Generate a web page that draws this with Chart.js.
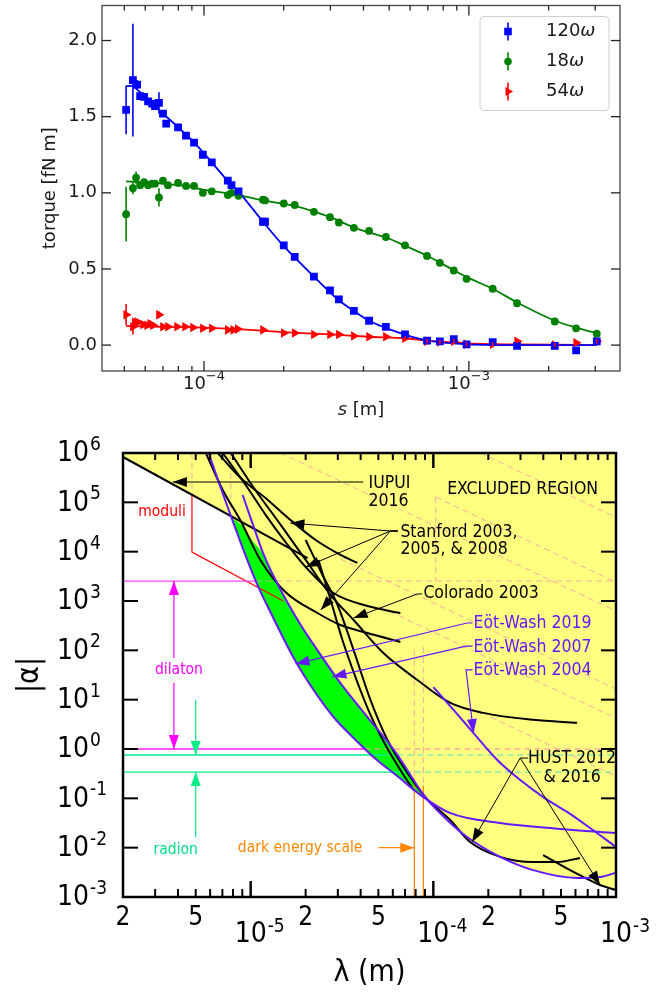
<!DOCTYPE html>
<html>
<head>
<meta charset="utf-8">
<script src="https://cdn.jsdelivr.net/npm/chart.js@4.4.0/dist/chart.umd.min.js"></script>
<style>
  body { margin: 0; background: #fff; width: 668px; height: 994px; overflow: hidden; }
  #torque { position: absolute; left: 0; top: 0; }
  #alpha { position: absolute; left: 0; top: 420px; }
</style>
</head>
<body>
<canvas id="torque" width="668" height="420"></canvas>
<canvas id="alpha" width="668" height="574"></canvas>
<script>
// ---------- top panel: torque vs separation ----------
var sep120 = [5.08e-5, 5.39e-5, 5.59e-5, 5.74e-5, 5.94e-5, 6.15e-5, 6.37e-5, 6.53e-5, 6.76e-5, 7.0e-5, 7.2e-5, 7.98e-5, 8.55e-5, 9.17e-5, 9.9e-5, 1.07e-4, 1.23e-4, 1.27e-4, 1.35e-4, 1.67e-4, 1.70e-4, 2.0e-4, 2.2e-4, 2.6e-4, 2.99e-4, 3.23e-4, 3.68e-4, 4.2e-4, 4.86e-4, 5.74e-4, 6.95e-4, 7.77e-4, 8.77e-4, 9.8e-4, 1.23e-3, 1.52e-3, 2.11e-3, 2.54e-3, 3.04e-3];
var torque120 = [1.545, 1.74, 1.71, 1.635, 1.63, 1.60, 1.585, 1.57, 1.59, 1.52, 1.455, 1.43, 1.375, 1.33, 1.25, 1.20, 1.08, 1.05, 1.01, 0.81, 0.81, 0.655, 0.58, 0.45, 0.36, 0.30, 0.225, 0.16, 0.12, 0.07, 0.03, 0.025, 0.04, 0.005, 0.02, -0.005, -0.005, -0.035, 0.025];
var err120 = [0.16, 0.37, 0.03, 0.02, 0.02, 0.02, 0.02, 0.02, 0.07, 0.02, 0.02, 0.015, 0.015, 0.015, 0.015, 0.015, 0.015, 0.015, 0.015, 0.015, 0.015, 0.015, 0.015, 0.015, 0.015, 0.015, 0.015, 0.015, 0.015, 0.015, 0.015, 0.015, 0.015, 0.015, 0.015, 0.015, 0.015, 0.015, 0.015];

var sep18 = [5.08e-5, 5.39e-5, 5.54e-5, 5.74e-5, 5.94e-5, 6.15e-5, 6.37e-5, 6.53e-5, 6.76e-5, 7.0e-5, 7.31e-5, 7.98e-5, 8.55e-5, 9.17e-5, 9.9e-5, 1.07e-4, 1.23e-4, 1.27e-4, 1.35e-4, 1.67e-4, 1.70e-4, 2.0e-4, 2.2e-4, 2.6e-4, 2.99e-4, 3.23e-4, 3.68e-4, 4.2e-4, 4.86e-4, 5.74e-4, 6.95e-4, 7.77e-4, 8.77e-4, 9.8e-4, 1.23e-3, 1.52e-3, 2.11e-3, 2.54e-3, 3.04e-3];
var torque18 = [0.86, 1.03, 1.10, 1.05, 1.07, 1.05, 1.06, 1.06, 0.97, 1.08, 1.05, 1.065, 1.045, 1.045, 1.0, 1.01, 0.985, 1.0, 0.98, 0.955, 0.95, 0.93, 0.92, 0.875, 0.84, 0.805, 0.77, 0.75, 0.71, 0.655, 0.585, 0.54, 0.49, 0.435, 0.37, 0.275, 0.155, 0.11, 0.075];
var err18 = [0.18, 0.04, 0.04, 0.02, 0.02, 0.02, 0.02, 0.02, 0.06, 0.02, 0.015, 0.015, 0.015, 0.015, 0.015, 0.015, 0.015, 0.015, 0.015, 0.015, 0.015, 0.015, 0.015, 0.015, 0.015, 0.015, 0.015, 0.015, 0.015, 0.015, 0.015, 0.015, 0.015, 0.015, 0.015, 0.015, 0.015, 0.015, 0.015];

var sep54 = [5.08e-5, 5.39e-5, 5.49e-5, 5.64e-5, 5.89e-5, 6.1e-5, 6.26e-5, 6.42e-5, 6.76e-5, 7.0e-5, 7.31e-5, 7.91e-5, 8.48e-5, 9.09e-5, 9.9e-5, 1.07e-4, 1.23e-4, 1.29e-4, 1.34e-4, 1.67e-4, 2.0e-4, 2.2e-4, 2.6e-4, 2.99e-4, 3.23e-4, 3.68e-4, 4.2e-4, 4.86e-4, 5.74e-4, 6.95e-4, 7.77e-4, 8.77e-4, 9.8e-4, 1.23e-3, 1.52e-3, 2.11e-3, 2.54e-3, 3.04e-3];
var torque54 = [0.20, 0.12, 0.15, 0.15, 0.135, 0.13, 0.14, 0.13, 0.20, 0.12, 0.12, 0.12, 0.12, 0.115, 0.11, 0.11, 0.10, 0.10, 0.105, 0.10, 0.08, 0.08, 0.07, 0.07, 0.07, 0.06, 0.055, 0.055, 0.045, 0.025, 0.02, 0.025, 0.005, 0.005, 0.025, 0.0, 0.015, 0.025];
var err54 = [0.07, 0.05, 0.03, 0.02, 0.02, 0.02, 0.02, 0.02, 0.02, 0.015, 0.015, 0.015, 0.015, 0.015, 0.015, 0.015, 0.015, 0.015, 0.015, 0.015, 0.015, 0.015, 0.015, 0.015, 0.015, 0.015, 0.015, 0.015, 0.015, 0.015, 0.015, 0.015, 0.015, 0.015, 0.015, 0.015, 0.015, 0.015];

// fitted curves
var fitSep120 = [5.08e-5, 5.39e-5, 6.0e-5, 7.0e-5, 8.0e-5, 9.2e-5, 1.07e-4, 1.27e-4, 1.35e-4, 1.67e-4, 2.0e-4, 2.6e-4, 3.2e-4, 4.2e-4, 5.7e-4, 7.0e-4, 1.0e-3, 1.5e-3, 3.04e-3];
var fit120 = [1.70, 1.70, 1.63, 1.52, 1.43, 1.33, 1.20, 1.05, 1.01, 0.81, 0.65, 0.45, 0.30, 0.16, 0.07, 0.03, 0.005, 0.0, 0.0];
var fitSep18 = [5.08e-5, 6.0e-5, 7.0e-5, 8.5e-5, 1.0e-4, 1.35e-4, 1.67e-4, 2.2e-4, 3.0e-4, 3.7e-4, 4.9e-4, 5.7e-4, 7.0e-4, 8.8e-4, 1.0e-3, 1.23e-3, 1.52e-3, 2.11e-3, 2.54e-3, 3.04e-3];
var fit18 = [1.075, 1.07, 1.06, 1.045, 1.02, 0.985, 0.95, 0.915, 0.84, 0.77, 0.705, 0.655, 0.585, 0.49, 0.44, 0.37, 0.28, 0.16, 0.115, 0.078];
var fitSep54 = [5.08e-5, 7e-5, 1e-4, 1.35e-4, 2e-4, 3e-4, 4.2e-4, 5.7e-4, 7e-4, 1e-3, 1.5e-3, 3.04e-3];
var fit54 = [0.125, 0.12, 0.115, 0.105, 0.085, 0.07, 0.055, 0.045, 0.03, 0.012, 0.005, 0.0];

var torqueTicks = [0, 0.5, 1.0, 1.5, 2.0];
var sepDecades = [1e-4, 1e-3];
var sepExps = ['\u22124', '\u22123'];
var seriesNames = ['120', '18', '54'];
var seriesColors = ['#0000ff', '#008000', '#ff0000'];

// ---------- bottom panel: |alpha| vs lambda ----------
var iupui = [[2.0e-6, 8.3e5], [2.05e-5, 7.4e3]];
var ew2019 = [[5.89e-6, 1e6], [6.86e-6, 1.95e5], [7.97e-6, 4.2e4], [9.39e-6, 8.2e3], [1.09e-5, 2.1e3], [1.29e-5, 571], [1.72e-5, 70], [2.21e-5, 15.7], [2.84e-5, 4.45], [3.66e-5, 1.67], [4.7e-5, 0.69], [6.44e-5, 0.27], [8.82e-5, 0.106], [1.24e-4, 0.050], [2.32e-4, 0.0316], [4.94e-4, 0.024], [1.0e-3, 0.0198]];
var ew2007 = [[9.04e-6, 1.41e5], [1.03e-5, 3.5e4], [1.18e-5, 8.6e3], [1.46e-5, 1.67e3], [1.88e-5, 326], [2.42e-5, 80], [3.1e-5, 21.7], [4.36e-5, 4.45], [6.2e-5, 0.87], [9.04e-5, 0.106], [1.16e-4, 0.040], [1.53e-4, 0.0164], [2.32e-4, 0.0065], [3.52e-4, 0.0035], [6.12e-4, 0.00243], [8.18e-4, 0.00254], [1.0e-3, 0.0031]];
var ew2004 = [[1.0e-4, 18], [1.29e-4, 6.2], [1.66e-4, 2.1], [2.24e-4, 0.6], [2.99e-4, 0.235], [4.09e-4, 0.10], [5.4e-4, 0.053], [7.21e-4, 0.025], [1.0e-3, 0.0103]];
var stanfordA = [[6.6e-6, 1e6], [8.82e-6, 3.1e5], [1.24e-5, 1.12e5], [1.65e-5, 4.4e4], [2.27e-5, 1.72e4], [3.1e-5, 8.6e3], [3.84e-5, 5.9e3]];
var stanfordB = [[7.03e-6, 1e6], [9.39e-6, 2.25e5], [1.21e-5, 5.5e4], [1.55e-5, 1.57e4], [2.0e-5, 4.9e3], [2.84e-5, 1.45e3], [4.36e-5, 790], [6.6e-5, 571]];
var stanfordC = [[5.68e-6, 1e6], [7.03e-6, 1.78e5], [8.82e-6, 4.2e4], [1.13e-5, 6.8e3], [1.55e-5, 1.52e3], [2.32e-5, 571], [3.1e-5, 326], [4.36e-5, 224], [6.6e-5, 148]];
var colorado = [[7.78e-6, 1e6], [1.06e-5, 1.78e5], [1.46e-5, 3.5e4], [2.0e-5, 6.8e3], [2.74e-5, 1.32e3], [3.66e-5, 412], [5.33e-5, 88], [8.18e-5, 25], [1.24e-4, 8.6], [1.88e-4, 5.4], [3.52e-4, 3.9], [6.12e-4, 3.4]];
var hust2012 = [[2.0e-5, 1.72e4], [2.47e-5, 3.4e3], [2.99e-5, 830], [3.66e-5, 101], [4.53e-5, 9.8], [5.61e-5, 1.52], [7.03e-5, 0.375], [9.04e-5, 0.106], [1.24e-4, 0.036], [1.59e-4, 0.013], [2.32e-4, 0.0065], [3.52e-4, 0.0051], [4.76e-4, 0.0051], [6.35e-4, 0.0062]];
var steepB = [[2.35e-5, 6.8e3], [2.74e-5, 1.05e3], [3.18e-5, 162], [3.8e-5, 25], [4.53e-5, 4.9], [5.47e-5, 1.2], [6.6e-5, 0.375], [7.8e-5, 0.146]];
var hust2016 = [[3.99e-4, 0.0071], [5.61e-4, 0.0035], [8.18e-4, 0.00175], [1.0e-3, 0.00138]];
// lower envelope of all limits: IUPUI line, then Eot-Wash, then HUST
var excludedEdge = [[2.0e-6, 8.3e5], [3.0e-6, 3.65e5], [4.0e-6, 2.04e5], [5.0e-6, 1.29e5], [6.0e-6, 8.95e4], [7.0e-6, 6.5e4], [7.8e-6, 5.25e4], [7.97e-6, 4.2e4], [9.39e-6, 8.2e3], [1.09e-5, 2.1e3], [1.29e-5, 571], [1.72e-5, 70], [2.21e-5, 15.7], [2.84e-5, 4.45], [3.66e-5, 1.67], [4.7e-5, 0.69], [6.44e-5, 0.27], [8.82e-5, 0.106], [1.24e-4, 0.036], [1.59e-4, 0.013], [2.32e-4, 0.0065], [3.52e-4, 0.0035], [6.12e-4, 0.00243], [7.21e-4, 0.0022], [8.18e-4, 0.00175], [1.0e-3, 0.00138]];
var greenEdge = [[7.9e-6, 4.8e4], [9.0e-6, 3.3e4], [1.03e-5, 1.6e4], [1.18e-5, 8.6e3], [1.46e-5, 1.67e3], [1.88e-5, 326], [2.42e-5, 80], [3.1e-5, 21.7], [4.36e-5, 4.45], [6.2e-5, 0.87], [8.82e-5, 0.106]];

// theory bands
var dilatonBounds = [2540, 1.0];
var dilatonCross = [1.07e-5, 4.2e-5];
var radionBounds = [0.755, 0.34];
var radionCross = [5.6e-5, 7.0e-5];
var darkEnergyLambda = [7.87e-5, 8.82e-5];
var darkEnergyTop = [0.25, 0.18];
var moduliLine = [[4.77e-6, 1.41e5], [4.77e-6, 9.8e3], [1.51e-5, 1.0e3]];
var pinkVerticals = [[4.77e-6, 1e6, 1.41e5], [7.78e-6, 1e6, 5.3e4], [1.03e-4, 1.28e5, 2540], [7.87e-5, 101, 0.25], [8.82e-5, 117, 0.18]];
var pinkDiagonals = [[[1.46e-5, 1e6], [1e-3, 627]], [[1.03e-4, 1.28e5], [1e-3, 2.4e3]], [[1.81e-4, 1e6], [1e-3, 5e4]], [[3.1e-5, 7.1e3], [1e-3, 16.4]], [[5.13e-5, 755], [1e-3, 4.2]], [[2.05e-4, 4.45], [1e-3, 0.28]]];

var lambdaMinor = [2e-6, 5e-6, 2e-5, 5e-5, 2e-4, 5e-4];
var lambdaMinorLabels = ['2', '5', '2', '5', '2', '5'];
var lambdaDecades = [1e-5, 1e-4, 1e-3];
var lambdaExps = ['-5', '-4', '-3'];
var alphaExps = [-3, -2, -1, 0, 1, 2, 3, 4, 5, 6];

var NARROW = "'Liberation Sans Narrow','DejaVu Sans Condensed','DejaVu Sans',sans-serif";
var PURPLE = '#6618ff';
var PINK = 'rgba(245,150,170,0.8)';

function xy(xs, ys) { return xs.map(function (x, i) { return { x: x, y: ys[i] }; }); }
function pairs(list) { return list.map(function (p) { return { x: p[0], y: p[1] }; }); }

function seg(ctx, x0, y0, x1, y1) { ctx.beginPath(); ctx.moveTo(x0, y0); ctx.lineTo(x1, y1); ctx.stroke(); }

function arrowPath(ctx, pts, color, lw, hl, hw) {
  ctx.strokeStyle = color; ctx.fillStyle = color; ctx.lineWidth = lw;
  ctx.beginPath(); ctx.moveTo(pts[0][0], pts[0][1]);
  for (var i = 1; i < pts.length; i++) ctx.lineTo(pts[i][0], pts[i][1]);
  ctx.stroke();
  var p1 = pts[pts.length - 2], p2 = pts[pts.length - 1];
  var a = Math.atan2(p2[1] - p1[1], p2[0] - p1[0]);
  var bx = p2[0] - hl * Math.cos(a), by = p2[1] - hl * Math.sin(a);
  ctx.beginPath(); ctx.moveTo(p2[0], p2[1]);
  ctx.lineTo(bx + hw * Math.sin(a), by - hw * Math.cos(a));
  ctx.lineTo(bx - hw * Math.sin(a), by + hw * Math.cos(a));
  ctx.closePath(); ctx.fill();
}

// ---------------- top chart ----------------
var errorBars = {
  id: 'errorBars',
  afterDatasetsDraw: function (chart) {
    var ctx = chart.ctx, xs = chart.scales.x, ys = chart.scales.y;
    ctx.save();
    chart.data.datasets.forEach(function (ds) {
      if (!ds.errs) return;
      ctx.strokeStyle = ds.borderColor; ctx.lineWidth = 1.6;
      ds.data.forEach(function (p, j) {
        var px = xs.getPixelForValue(p.x);
        seg(ctx, px, ys.getPixelForValue(p.y - ds.errs[j]), px, ys.getPixelForValue(p.y + ds.errs[j]));
      });
    });
    ctx.restore();
  }
};

function legendMarker(ctx, i, x, y) {
  ctx.fillStyle = seriesColors[i]; ctx.strokeStyle = seriesColors[i]; ctx.lineWidth = 1.6;
  seg(ctx, x, y - 9, x, y + 9);
  ctx.beginPath();
  if (i === 0) ctx.rect(x - 3.8, y - 3.8, 7.6, 7.6);
  else if (i === 1) ctx.arc(x, y, 3.8, 0, Math.PI * 2);
  else { ctx.moveTo(x + 5, y); ctx.lineTo(x - 2.5, y - 4.4); ctx.lineTo(x - 2.5, y + 4.4); ctx.closePath(); }
  ctx.fill();
}

var torqueAxes = {
  id: 'torqueAxes',
  afterDraw: function (chart) {
    var ctx = chart.ctx, a = chart.chartArea, xs = chart.scales.x, ys = chart.scales.y;
    ctx.save();
    ctx.strokeStyle = '#444'; ctx.lineWidth = 1.3;
    ctx.strokeRect(a.left, a.top, a.right - a.left, a.bottom - a.top);
    ctx.strokeStyle = '#222'; ctx.fillStyle = '#1a1a1a'; ctx.lineWidth = 1.3;
    ctx.font = "18px 'DejaVu Sans'"; ctx.textAlign = 'right'; ctx.textBaseline = 'middle';
    torqueTicks.forEach(function (v) {
      var py = ys.getPixelForValue(v);
      seg(ctx, a.left, py, a.left + 9, py);
      seg(ctx, a.right - 9, py, a.right, py);
      ctx.fillText(v.toFixed(1), a.left - 5, py);
    });
    [1e-5, 1e-4, 1e-3].forEach(function (dec) {
      for (var k = 1; k <= 9; k++) {
        var v = k * dec;
        if (v < xs.min || v > xs.max) continue;
        var px = xs.getPixelForValue(v), len = k === 1 ? 10 : 5;
        seg(ctx, px, a.bottom, px, a.bottom - len);
        seg(ctx, px, a.top, px, a.top + len);
      }
    });
    sepDecades.forEach(function (v, i) {
      var px = xs.getPixelForValue(v);
      ctx.font = "18px 'DejaVu Sans'";
      var w1 = ctx.measureText('10').width;
      ctx.font = "13px 'DejaVu Sans'";
      var w2 = ctx.measureText(sepExps[i]).width;
      var x0 = px - (w1 + w2) / 2;
      ctx.textAlign = 'left';
      ctx.font = "18px 'DejaVu Sans'"; ctx.fillText('10', x0, a.bottom + 13);
      ctx.font = "13px 'DejaVu Sans'"; ctx.fillText(sepExps[i], x0 + w1, a.bottom + 6);
    });
    // axis titles
    ctx.font = "italic 18px 'DejaVu Sans'";
    var ws = ctx.measureText('s').width;
    ctx.font = "18px 'DejaVu Sans'";
    var wr = ctx.measureText(' [m]').width;
    var cx = (a.left + a.right) / 2 - (ws + wr) / 2;
    ctx.textAlign = 'left';
    ctx.font = "italic 18px 'DejaVu Sans'"; ctx.fillText('s', cx, a.bottom + 39);
    ctx.font = "18px 'DejaVu Sans'"; ctx.fillText(' [m]', cx + ws, a.bottom + 39);
    ctx.save();
    ctx.translate(50, (a.top + a.bottom) / 2); ctx.rotate(-Math.PI / 2);
    ctx.textAlign = 'center'; ctx.fillText('torque [fN m]', 0, 0);
    ctx.restore();
    // legend
    var bx = a.right - 140, by = a.top + 11, bw = 129, bh = 94;
    ctx.fillStyle = 'rgba(255,255,255,0.85)'; ctx.strokeStyle = '#d0d0d0'; ctx.lineWidth = 1;
    ctx.beginPath(); ctx.roundRect(bx, by, bw, bh, 4); ctx.fill(); ctx.stroke();
    seriesNames.forEach(function (n, i) {
      var yy = by + 15 + i * 30;
      legendMarker(ctx, i, bx + 28, yy);
      ctx.fillStyle = '#1a1a1a'; ctx.textAlign = 'left';
      ctx.font = "18px 'DejaVu Sans'"; ctx.fillText(n, bx + 66, yy);
      var w = ctx.measureText(n).width;
      ctx.font = "italic 18px 'DejaVu Sans'"; ctx.fillText('\u03c9', bx + 66 + w, yy);
    });
    ctx.restore();
  }
};

new Chart(document.getElementById('torque'), {
  type: 'line',
  data: {
    datasets: [
      { data: xy(sep120, torque120), errs: err120, showLine: false, borderColor: seriesColors[0], backgroundColor: seriesColors[0], pointStyle: 'rect', pointRadius: 5.5, pointBorderWidth: 0 },
      { data: xy(sep18, torque18), errs: err18, showLine: false, borderColor: seriesColors[1], backgroundColor: seriesColors[1], pointStyle: 'circle', pointRadius: 3.9, pointBorderWidth: 0 },
      { data: xy(sep54, torque54), errs: err54, showLine: false, borderColor: seriesColors[2], backgroundColor: seriesColors[2], pointStyle: 'triangle', pointRotation: 90, pointRadius: 5.5, pointBorderWidth: 0 },
      { data: xy(fitSep120, fit120), borderColor: seriesColors[0], borderWidth: 1.8, pointRadius: 0, tension: 0.2 },
      { data: xy(fitSep18, fit18), borderColor: seriesColors[1], borderWidth: 1.8, pointRadius: 0, tension: 0.2 },
      { data: xy(fitSep54, fit54), borderColor: seriesColors[2], borderWidth: 1.8, pointRadius: 0, tension: 0.2 }
    ]
  },
  options: {
    responsive: false, animation: false, events: [],
    layout: { padding: { left: 102, top: 2, right: 48, bottom: 49 } },
    plugins: { legend: { display: false }, tooltip: { enabled: false } },
    scales: {
      x: { type: 'logarithmic', min: 4.12e-5, max: 3.72e-3, display: false },
      y: { type: 'linear', min: -0.17, max: 2.23, display: false }
    }
  },
  plugins: [errorBars, torqueAxes]
});

// ---------------- bottom chart ----------------
function line(pts, color, width, order, dash) {
  return { data: pairs(pts), borderColor: color, borderWidth: width, pointRadius: 0, order: order, borderDash: dash || [], fill: false, tension: 0 };
}
function curve(pts, color, width, order) {
  var d = line(pts, color, width, order);
  d.cubicInterpolationMode = 'monotone';
  return d;
}

var alphaSets = [];
alphaSets.push(curve(ew2019, PURPLE, 2, 3));                 // index 0, green fill target
alphaSets.push(curve(ew2007, PURPLE, 2, 3));
alphaSets.push(curve(ew2004, PURPLE, 2, 3));
alphaSets.push(line(iupui, '#000', 2, 4));
[stanfordA, stanfordB, stanfordC, colorado, hust2012, steepB, hust2016].forEach(function (c) {
  alphaSets.push(curve(c, '#000', 2, 4));
});
alphaSets.push({ data: pairs(excludedEdge), borderWidth: 0, pointRadius: 0, fill: 'end', backgroundColor: '#ffff80', order: 30, cubicInterpolationMode: 'monotone' });
alphaSets.push({ data: pairs(greenEdge), borderWidth: 0, pointRadius: 0, fill: { target: 0 }, backgroundColor: '#00ff00', order: 29, cubicInterpolationMode: 'monotone' });
pinkDiagonals.forEach(function (d) { alphaSets.push(line(d, PINK, 1, 20, [6, 4])); });
pinkVerticals.forEach(function (v) { alphaSets.push(line([[v[0], v[1]], [v[0], v[2]]], PINK, 1, 20, [6, 4])); });
// dilaton and radion bounds: solid outside, dashed inside the excluded region
alphaSets.push(line([[2e-6, dilatonBounds[0]], [dilatonCross[0], dilatonBounds[0]]], '#ff44ff', 1.3, 10));
alphaSets.push(line([[dilatonCross[0], dilatonBounds[0]], [1e-3, dilatonBounds[0]]], PINK, 1, 20, [6, 4]));
alphaSets.push(line([[2e-6, dilatonBounds[1]], [dilatonCross[1], dilatonBounds[1]]], '#ff55ff', 2, 10));
alphaSets.push(line([[dilatonCross[1], dilatonBounds[1]], [1e-3, dilatonBounds[1]]], PINK, 1.5, 20, [6, 4]));
radionBounds.forEach(function (b, i) {
  alphaSets.push(line([[2e-6, b], [radionCross[i], b]], '#00ee88', 1.3, 10));
  alphaSets.push(line([[radionCross[i], b], [1e-3, b]], 'rgba(60,220,200,0.9)', 1, 20, [6, 4]));
});
alphaSets.push(line(moduliLine, '#ff0000', 1.2, 10));
darkEnergyLambda.forEach(function (l, i) {
  alphaSets.push(line([[l, 1e-3], [l, darkEnergyTop[i]]], '#ff8800', 1.3, 10));
});

var alphaAxes = {
  id: 'alphaAxes',
  afterDraw: function (chart) {
    var ctx = chart.ctx, a = chart.chartArea, xs = chart.scales.x, ys = chart.scales.y;
    function P(p) { return [xs.getPixelForValue(p[0]), ys.getPixelForValue(p[1])]; }
    function T(txt, p, color, size, align) {
      var q = P(p);
      ctx.fillStyle = color; ctx.font = size + 'px ' + NARROW; ctx.textAlign = align || 'left'; ctx.textBaseline = 'middle';
      ctx.fillText(txt, q[0], q[1]);
    }
    ctx.save();
    ctx.beginPath(); ctx.rect(a.left, a.top, a.right - a.left, a.bottom - a.top); ctx.clip();
    // annotation arrows
    arrowPath(ctx, [P([4.14e-5, 2.58e5]), P([3.75e-6, 2.58e5])], '#000', 1, 14, 5);
    var stO = [5.82e-5, 2.62e4];
    [[1.65e-5, 3.8e4], [2.0e-5, 4.9e3], [2.42e-5, 655]].forEach(function (tip) {
      arrowPath(ctx, [P([6.4e-5, 2.62e4]), P(stO), P(tip)], '#000', 1, 14, 5);
    });
    arrowPath(ctx, [P([8.7e-5, 1.39e3]), P([8.18e-5, 1.39e3]), P([3.66e-5, 452])], '#000', 1, 14, 5);
    arrowPath(ctx, [P([1.64e-4, 358]), P([1.53e-4, 358]), P([1.76e-5, 53])], PURPLE, 1.2, 14, 5);
    arrowPath(ctx, [P([1.64e-4, 122]), P([1.51e-4, 122]), P([2.8e-5, 29])], PURPLE, 1.2, 14, 5);
    arrowPath(ctx, [P([1.64e-4, 40]), P([1.51e-4, 40]), P([1.66e-4, 2.1])], PURPLE, 1.2, 14, 5);
    arrowPath(ctx, [P([3.3e-4, 0.656]), P([2.99e-4, 0.656]), P([1.63e-4, 0.013])], '#000', 1, 14, 5);
    arrowPath(ctx, [P([2.99e-4, 0.656]), P([8.18e-4, 0.00175])], '#000', 1, 14, 5);
    arrowPath(ctx, [P([5.0e-5, 0.01]), P([7.87e-5, 0.01])], '#ff8800', 1.2, 14, 5);
    arrowPath(ctx, [P([3.8e-6, 70]), P([3.8e-6, dilatonBounds[0]])], '#ff00ff', 1.2, 14, 5);
    arrowPath(ctx, [P([3.8e-6, 21.7]), P([3.8e-6, dilatonBounds[1]])], '#ff00ff', 1.2, 14, 5);
    arrowPath(ctx, [P([5.0e-6, 9.8]), P([5.0e-6, radionBounds[0]])], '#00ee88', 1.2, 14, 5);
    arrowPath(ctx, [P([5.0e-6, 0.0164]), P([5.0e-6, radionBounds[1]])], '#00ee88', 1.2, 14, 5);
    // labels
    T('IUPUI', [4.42e-5, 2.47e5], '#000', 17.5);
    T('2016', [4.42e-5, 1.02e5], '#000', 17.5);
    T('EXCLUDED REGION', [1.19e-4, 1.85e5], '#000', 17.5);
    T('Stanford 2003,', [6.6e-5, 2.5e4], '#000', 17.5);
    T('2005, & 2008', [6.6e-5, 1.13e4], '#000', 17.5);
    T('Colorado 2003', [8.82e-5, 1.39e3], '#000', 17.5);
    T('E\u00f6t-Wash 2019', [1.66e-4, 358], PURPLE, 17.5);
    T('E\u00f6t-Wash 2007', [1.66e-4, 117], PURPLE, 17.5);
    T('E\u00f6t-Wash 2004', [1.66e-4, 40], PURPLE, 17.5);
    T('HUST 2012', [5.75e-4, 0.656], '#000', 17.5, 'center');
    T('& 2016', [5.75e-4, 0.27], '#000', 17.5, 'center');
    T('moduli', [3.27e-6, 6.4e4], '#ff0000', 15.5, 'center');
    T('dilaton', [4.05e-6, 40], '#ff00ff', 15.5, 'center');
    T('radion', [3.89e-6, 0.009], '#00dd88', 15.5, 'center');
    T('dark energy scale', [4.09e-5, 0.01], '#ff8800', 15.5, 'right');
    ctx.restore();

    // frame and inward ticks
    ctx.save();
    ctx.strokeStyle = '#000'; ctx.lineWidth = 2.5;
    ctx.strokeRect(a.left, a.top, a.right - a.left, a.bottom - a.top);
    ctx.lineWidth = 2;
    alphaExps.forEach(function (e) {
      var py = ys.getPixelForValue(Math.pow(10, e));
      seg(ctx, a.left, py, a.left + 15, py);
      seg(ctx, a.right - 15, py, a.right, py);
    });
    [1e-6, 1e-5, 1e-4].forEach(function (dec) {
      for (var k = 1; k <= 10; k++) {
        var v = k * dec;
        if (v < xs.min * 0.999 || v > xs.max * 1.001) continue;
        var px = xs.getPixelForValue(v), major = (k === 1 || k === 10);
        seg(ctx, px, a.bottom, px, a.bottom - (major ? 16 : 8));
        seg(ctx, px, a.top, px, a.top + (major ? 15 : 7));
      }
    });
    // tick labels
    ctx.fillStyle = '#000'; ctx.textBaseline = 'middle';
    alphaExps.forEach(function (e) {
      var py = ys.getPixelForValue(Math.pow(10, e));
      ctx.font = '28px ' + NARROW; ctx.textAlign = 'right'; ctx.fillText('10', a.left - 34, py + 1);
      ctx.font = '19px ' + NARROW; ctx.textAlign = 'left'; ctx.fillText(e < 0 ? '-' + (-e) : String(e), a.left - 33, py - 8);
    });
    lambdaMinor.forEach(function (v, i) {
      ctx.font = '26px ' + NARROW; ctx.textAlign = 'center';
      ctx.fillText(lambdaMinorLabels[i], xs.getPixelForValue(v), a.bottom + 21);
    });
    lambdaDecades.forEach(function (v, i) {
      var px = xs.getPixelForValue(v);
      ctx.font = '28px ' + NARROW; ctx.textAlign = 'center'; ctx.fillText('10', px, a.bottom + 38);
      var w = ctx.measureText('10').width;
      ctx.font = '19px ' + NARROW; ctx.textAlign = 'left'; ctx.fillText(lambdaExps[i], px + w / 2 + 1, a.bottom + 30);
    });
    ctx.font = '30px ' + NARROW; ctx.textAlign = 'center';
    ctx.fillText('\u03bb (m)', (a.left + a.right) / 2, a.bottom + 76);
    ctx.save();
    ctx.translate(30, (a.top + a.bottom) / 2); ctx.rotate(-Math.PI / 2);
    ctx.fillText('|\u03b1|', 0, 0);
    ctx.restore();
    ctx.restore();
  }
};

new Chart(document.getElementById('alpha'), {
  type: 'line',
  data: { datasets: alphaSets },
  options: {
    responsive: false, animation: false, events: [],
    layout: { padding: { left: 123, top: 33, right: 52, bottom: 97 } },
    plugins: { legend: { display: false }, tooltip: { enabled: false } },
    scales: {
      x: { type: 'logarithmic', min: 2e-6, max: 1e-3, display: false },
      y: { type: 'logarithmic', min: 1e-3, max: 1e6, display: false }
    }
  },
  plugins: [alphaAxes]
});
</script>
</body>
</html>
